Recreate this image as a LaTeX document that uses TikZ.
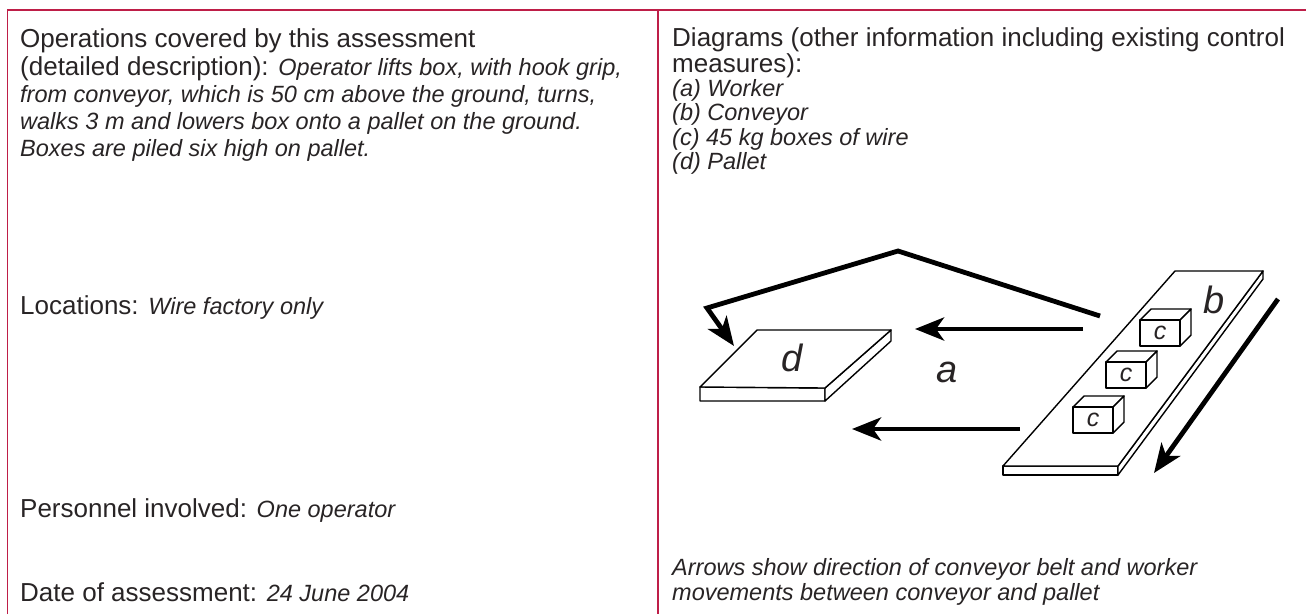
\documentclass[tikz,border=0pt]{standalone}
\usepackage{fontspec}
\setmainfont{Liberation Sans}
\usetikzlibrary{arrows.meta}
\definecolor{framecol}{RGB}{190,30,72}
\definecolor{ink}{RGB}{40,36,37}
\newcommand\itpart[1]{{\fontsize{23.5}{28}\selectfont\itshape #1}}
\begin{document}
\begin{tikzpicture}[x=1pt,y=-1pt,
  txt/.style={anchor=base west, inner sep=0pt, text=ink, font=\fontsize{26}{30}\selectfont},
  itx/.style={anchor=base west, inner sep=0pt, text=ink, font=\fontsize{23.5}{28}\selectfont\itshape},
  thickarrow/.style={draw=black, line width=4.8pt, line join=miter, -{Stealth[length=29pt,width=23pt,inset=8pt]}},
  solid3d/.style={draw=black, line width=1.4pt, fill=white, line join=round},
  lbl/.style={font=\fontsize{38}{40}\selectfont\itshape, inner sep=0pt, text=ink},
  boxlbl/.style={font=\fontsize{25}{26}\selectfont\itshape, inner sep=0pt, text=ink},
  rule/.style={draw=framecol, line width=1.5pt}]
\useasboundingbox (0,0) rectangle (1306,614);
% frame
\coordinate (fl) at (7.5,614);
\coordinate (ftl) at (7.5,10);
\coordinate (ftr) at (1306,10);
\coordinate (mt) at (658,10);
\coordinate (mb) at (658,614);
\draw[rule] (fl) -- (ftl) -- (ftr);
\draw[rule] (mt) -- (mb);

% left column
\node[txt] (l1) at (20,47) {Operations covered by this assessment};
\node[txt] (l2) at (20,75) {(detailed description): \itpart{Operator lifts box, with hook grip,}};
\node[itx] (l3) at (20,102) {from conveyor, which is 50 cm above the ground, turns,};
\node[itx] (l4) at (20,129) {walks 3 m and lowers box onto a pallet on the ground.};
\node[itx] (l5) at (20,156) {Boxes are piled six high on pallet.};
\node[txt] (loc) at (20,314) {Locations: \itpart{Wire factory only}};
\node[txt] (pers) at (20,517) {Personnel involved: \itpart{One operator}};
\node[txt] (date) at (20,601) {Date of assessment: \itpart{24 June 2004}};

% right column
\node[txt] (r1) at (672,46) {Diagrams (other information including existing control};
\node[txt] (r2) at (672,72) {measures):};
\node[itx] (ra) at (672,96) {(a) Worker};
\node[itx] (rb) at (672,120) {(b) Conveyor};
\node[itx] (rc) at (672,145) {(c) 45 kg boxes of wire};
\node[itx] (rd) at (672,169) {(d) Pallet};
\node[itx] (cap1) at (672,575) {Arrows show direction of conveyor belt and worker};
\node[itx] (cap2) at (672,600) {movements between conveyor and pallet};

% pallet d
\draw[solid3d] (700,387) -- (825,388) -- (825,401) -- (700,401) -- cycle;
\draw[solid3d] (891,330) -- (891,341) -- (825,401) -- (825,388) -- cycle;
\draw[solid3d] (757,330) -- (891,330) -- (825,388) -- (700,387) -- cycle;
\node[lbl] (d) at (792,358) {d};
\node[lbl] (a) at (947,372) {a};

% conveyor b
\draw[solid3d] (1003,466) -- (1118,466) -- (1118,475) -- (1003,475) -- cycle;
\draw[solid3d] (1263,271) -- (1263,279) -- (1118,475) -- (1118,466) -- cycle;
\draw[solid3d] (1175,271) -- (1263,271) -- (1118,466) -- (1003,466) -- cycle;
\node[lbl] (b) at (1214,300) {b};

% boxes c
\foreach \n/\x/\y in {1/1140/320, 2/1106/362, 3/1073/407}{
  \draw[solid3d] (\x,\y) -- (\x+11,\y-11) -- (\x+51,\y-11) -- (\x+40,\y) -- cycle;
  \draw[solid3d] (\x+40,\y) -- (\x+51,\y-11) -- (\x+51,\y+15) -- (\x+40,\y+26) -- cycle;
  \draw[solid3d] (\x,\y) rectangle (\x+40,\y+26);
  \node[boxlbl] (c\n) at (\x+20,\y+13) {c};
}

% arrows
\coordinate (w0) at (1100,316);
\coordinate (w1) at (898,251);
\coordinate (w2) at (707,308);
\coordinate (w3) at (734,346);
\draw[thickarrow] (w0) -- (w1) -- (w2) -- (w3);
\coordinate (u0) at (1083,329);
\coordinate (u1) at (915,329);
\draw[thickarrow] (u0) -- (u1);
\coordinate (v0) at (1020,429);
\coordinate (v1) at (852,429);
\draw[thickarrow] (v0) -- (v1);
\coordinate (s0) at (1278,299);
\coordinate (s1) at (1154,473);
\draw[thickarrow] (s0) -- (s1);
\end{tikzpicture}
\end{document}
